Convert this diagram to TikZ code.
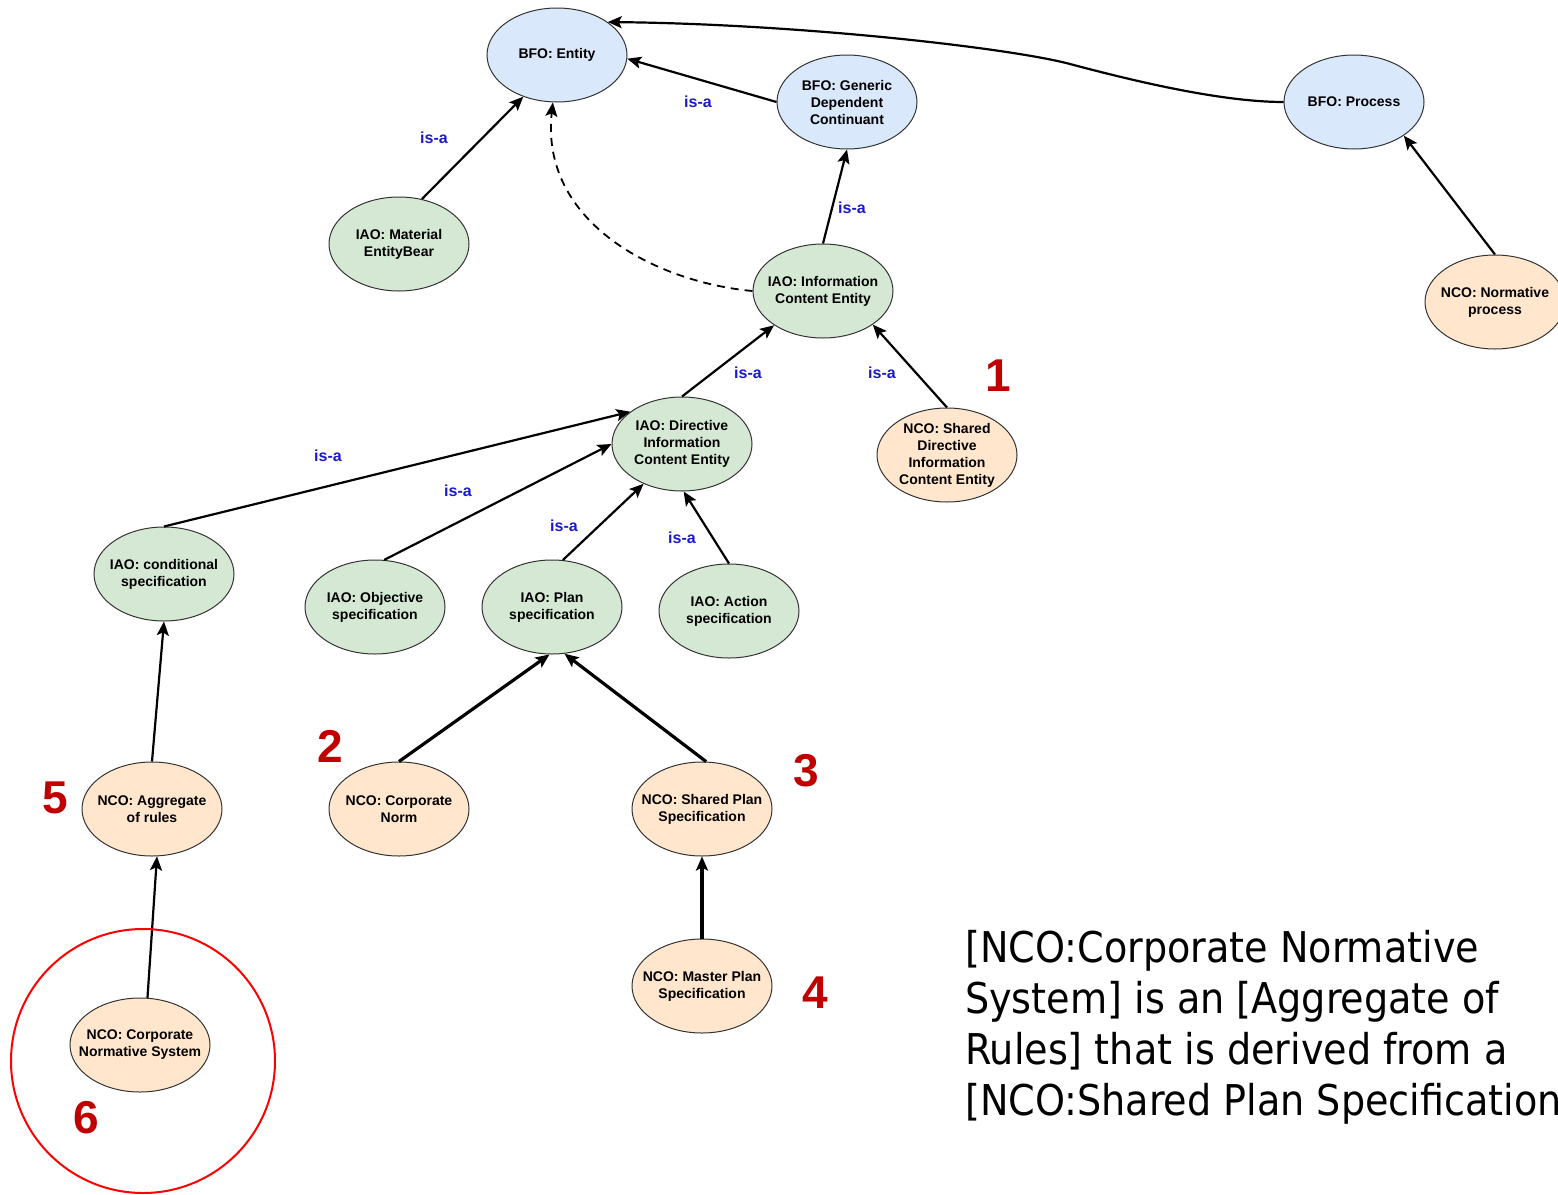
\documentclass[tikz,border=0pt]{standalone}
\usepackage{fontspec}
\setmainfont{Liberation Sans}
\newfontfamily\notefont{DejaVu Sans Condensed}
\usetikzlibrary{shapes.geometric,arrows.meta}

\definecolor{bfofill}{HTML}{DAE8FC}
\definecolor{iaofill}{HTML}{D5E8D4}
\definecolor{ncofill}{HTML}{FFE6CC}
\definecolor{edgeline}{HTML}{333333}
\definecolor{isablue}{HTML}{1A1ACC}
\definecolor{numred}{HTML}{C00000}

\tikzset{
  concept/.style={ellipse, draw=edgeline, line width=1pt,
    minimum width=140pt, minimum height=94pt,
    inner xsep=-16pt, inner ysep=-2pt, align=center,
    font=\fontsize{14}{17}\selectfont\bfseries},
  bfo/.style={concept, fill=bfofill},
  iao/.style={concept, fill=iaofill},
  nco/.style={concept, fill=ncofill},
  isa/.style={text=isablue, font=\fontsize{16}{18}\selectfont\bfseries, inner sep=0pt},
  num/.style={text=numred, font=\fontsize{46}{48}\selectfont\bfseries, inner sep=0pt},
  rel/.style={line width=2.2pt, -{Stealth[length=14pt,width=12pt,inset=3pt]}},
  strongrel/.style={rel, line width=3.2pt},
}

\begin{document}
\begin{tikzpicture}[x=1pt, y=-1pt]
\useasboundingbox (0,0) rectangle (1558,1194);
\clip (0,0) rectangle (1558,1194);

% BFO upper-level classes
\node[bfo] (ent)  at (557,55)  {BFO: Entity};
\node[bfo] (gdc)  at (847,102) {BFO: Generic\\Dependent\\Continuant};
\node[bfo] (proc) at (1354,102) {BFO: Process};

% IAO classes
\node[iao] (mat)  at (399,244) {IAO: Material\\EntityBear};
\node[iao] (ice)  at (823,291) {IAO: Information\\Content Entity};
\node[iao] (dice) at (682,444) {IAO: Directive\\Information\\Content Entity};
\node[iao] (cond) at (164,574) {IAO: conditional\\specification};
\node[iao] (obj)  at (375,607) {IAO: Objective\\specification};
\node[iao] (plan) at (552,607) {IAO: Plan\\specification};
\node[iao] (act)  at (729,611) {IAO: Action\\specification};

% NCO classes
\node[nco] (nproc)  at (1495,302) {NCO: Normative\\process};
\node[nco] (sdice)  at (947,455)  {NCO: Shared\\Directive\\Information\\Content Entity};
\node[nco] (agg)    at (152,809)  {NCO: Aggregate\\of rules};
\node[nco] (cnorm)  at (399,809)  {NCO: Corporate\\Norm};
\node[nco] (spec)   at (702,809)  {NCO: Shared Plan\\Specification};
\node[nco] (master) at (702,986)  {NCO: Master Plan\\Specification};
\node[nco] (cns)    at (140,1045) {NCO: Corporate\\Normative System};

% subclass links
\draw[rel] (mat.63) -- (ent.-129);
\draw[rel] (gdc.180) -- (ent.-3);
\draw[rel] (proc.180) .. controls (1220,102) and (1130,80) .. (1070,64)
           .. controls (1010,48) and (800,24) .. (ent.33);
\draw[rel] (ice.90) -- (gdc.-90);
\draw[rel, dashed, line width=1.8pt, dash pattern=on 8pt off 6pt]
           (ice.180) .. controls (655,282) and (540,222) .. (ent.-95);
\draw[rel] (dice.90) -- (ice.-145);
\draw[rel] (sdice.90) -- (ice.-34);
\draw[rel] (cond.90) -- (dice.148);
\draw[rel] (obj.79) -- (dice.180);
\draw[rel] (plan.77) -- (dice.-134);
\draw[rel] (act.90) -- (dice.-88);
\draw[rel] (nproc.90) -- (proc.-34);
\draw[rel] (agg.90) -- (cond.-90);
\draw[strongrel] (cnorm.90) -- (plan.-93);
\draw[strongrel] (spec.85) -- (plan.-75);
\draw[strongrel] (master.90) -- (spec.-90);
\draw[rel] (cns.81) -- (agg.-84);

% link labels
\node[isa] (l1) at (434,138) {is-a};
\node[isa] (l2) at (698,102) {is-a};
\node[isa] (l3) at (852,208) {is-a};
\node[isa] (l4) at (748,373) {is-a};
\node[isa] (l5) at (882,373) {is-a};
\node[isa] (l6) at (328,456) {is-a};
\node[isa] (l7) at (458,491) {is-a};
\node[isa] (l8) at (564,526) {is-a};
\node[isa] (l9) at (682,538) {is-a};

% step numbers
\node[num] (n1) at (998,376)  {1};
\node[num] (n2) at (330,746)  {2};
\node[num] (n3) at (806,771)  {3};
\node[num] (n4) at (815,993)  {4};
\node[num] (n5) at (55,798)   {5};
\node[num] (n6) at (86,1118)  {6};

% highlight around the corporate normative system
\node[circle, draw=red, line width=2pt, minimum size=264pt, inner sep=0pt] (focus) at (143,1061) {};

% explanatory note
\node[anchor=north west, inner sep=0pt, align=left,
      font=\notefont\fontsize{42.4}{51}\selectfont] (note) at (965,930)
  {{[}NCO:Corporate Normative\\System] is an {[}Aggregate of\\Rules] that is derived from a\\{[}NCO:Shared Plan Specification]};
\end{tikzpicture}
\end{document}
